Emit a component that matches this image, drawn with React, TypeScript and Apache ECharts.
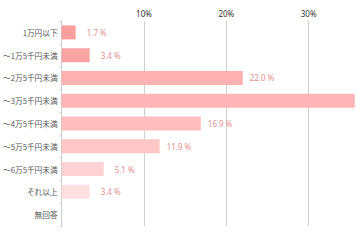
import React, { useEffect, useRef } from "react";
import * as echarts from "echarts";

const categories = [
  "1万円以下",
  "〜1万5千円未満",
  "〜2万5千円未満",
  "〜3万5千円未満",
  "〜4万5千円未満",
  "〜5万5千円未満",
  "〜6万5千円未満",
  "それ以上",
  "無回答",
];
const values: (number | null)[] = [1.7, 3.4, 22.0, 35.6, 16.9, 11.9, 5.1, 3.4, null];
const barColors = [
  "#fa9e9e",
  "#fba4a4",
  "#ffb0b0",
  "#ffb5b8",
  "#ffbdbd",
  "#ffc6c6",
  "#ffd3d3",
  "#ffe0e0",
  "#ffe8e8",
];
const tickValues = [10, 20, 30];

export default function App() {
  const ref = useRef<HTMLDivElement>(null);
  useEffect(() => {
    if (!ref.current) return;
    const chart = echarts.init(ref.current, null, { renderer: "svg" });
    chart.setOption({
      animation: false,
      grid: { left: 55, right: 9, top: 21, bottom: 14, containLabel: false },
      xAxis: {
        type: "value",
        position: "top",
        min: 0,
        max: 40,
        interval: 10,
        axisLine: { show: false },
        axisTick: { show: false },
        axisLabel: {
          fontSize: 8,
          color: "#333",
          margin: 4,
          fontFamily: "Noto Sans",
          formatter: (v: number) => (tickValues.includes(v) ? v + "%" : ""),
        },
        splitLine: { show: true, lineStyle: { color: "#cfcfcf", width: 1 } },
      },
      yAxis: {
        type: "category",
        inverse: true,
        data: categories,
        axisLine: { show: true, lineStyle: { color: "#cccccc" } },
        axisTick: { show: true, length: 2, lineStyle: { color: "#cccccc" } },
        axisLabel: {
          fontSize: 7.7,
          color: "#555",
          margin: 4,
          fontFamily: "Noto Sans CJK JP",
        },
      },
      series: [
        {
          type: "bar",
          barWidth: 14,
          data: values.map((v, i) => ({
            value: v,
            itemStyle: { color: barColors[i] },
            label: {
              distance: v !== null && v < 10 ? 11 : 7,
              show: v !== null && v < 30,
            },
          })),
          label: {
            show: true,
            position: "right",
            fontSize: 8,
            color: "#e59090",
            fontFamily: "Noto Sans",
            formatter: (p: any) => (p.value == null ? "" : Number(p.value).toFixed(1) + " %"),
          },
        },
      ],
    });
    return () => chart.dispose();
  }, []);
  return (
    <div
      style={{
        position: "absolute",
        left: 0,
        top: 0,
        width: 360,
        height: 240,
        overflow: "hidden",
      }}
    >
      <div ref={ref} style={{ width: 400, height: 240 }} />
    </div>
  );
}
